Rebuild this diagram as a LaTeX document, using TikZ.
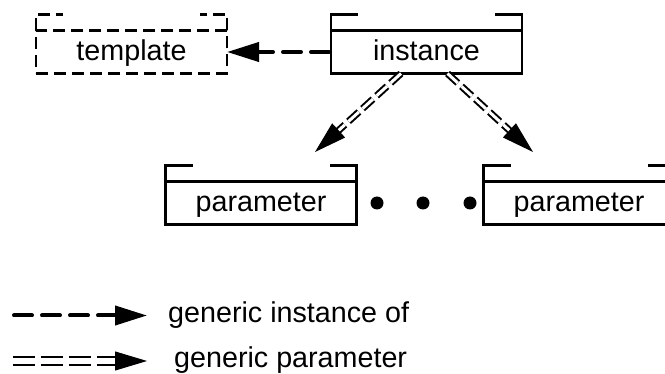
\documentclass[tikz,border=0pt]{standalone}
\usepackage{fontspec}
\setmainfont{Liberation Sans}
\usetikzlibrary{arrows.meta,calc}
\begin{document}
\begin{tikzpicture}[x=1pt,y=-1pt,
  lbl/.style={font=\fontsize{28.7}{34}\selectfont},
  body/.style={draw, line width=2.3pt, minimum width=191pt, minimum height=43pt,
    inner sep=0pt, outer sep=0pt, lbl, text height=22pt, text depth=5pt},
  ghost/.style={dash pattern=on 12pt off 6pt},
  tabline/.style={line width=2.3pt},
  dot/.style={circle, fill, inner sep=0pt, minimum size=13pt},
  head/.style={-{Triangle[length=32pt,width=19pt]}},
  instof/.style={line width=4pt, line cap=round, dash pattern=on 18pt off 10pt, head},
  paramof/.style={double, double distance=3pt, line width=2pt, dash pattern=on 14pt off 5pt},
]
\useasboundingbox (0,0) rectangle (665,374);
\clip (0,0) rectangle (665,374);

% packages
\node[body] (inst) at (426.5,52) {instance};
\node[body, ghost] (tmpl) at (131.5,52) {template};
\node[body] (parA) at (261,203) {parameter};
\node[body] (parB) at (579,203) {parameter};

% folder tabs
\foreach \b in {inst,parA,parB}{
  \draw[tabline] (\b.north west) -- ++(0,-16) -- ++(27,0);
  \draw[tabline] (\b.north east) -- ++(0,-16) -- ++(-27,0);
}
\draw[tabline, ghost] (tmpl.north west) -- ++(0,-16) -- ++(27,0);
\draw[tabline, ghost] (tmpl.north east) -- ++(0,-16) -- ++(-27,0);

% ellipsis between the parameters
\node[dot] (d1) at (377,203) {};
\node[dot] (d2) at (423,203) {};
\node[dot] (d3) at (470,203) {};

% generic instance of
\draw[instof, shorten <=2pt] (inst.west) -- (tmpl.east);

% generic parameters
\coordinate (sL) at ($(inst.south)+(-25.5,0)$);
\coordinate (sR) at ($(inst.south)+(21,0)$);
\coordinate (tL) at (315,152);
\coordinate (tR) at (533,152);
\draw[paramof, shorten >=30pt] (sL) -- (tL);
\draw[line width=1pt, head] ($(tL)!32pt!(sL)$) -- (tL);
\draw[paramof, shorten >=30pt] (sR) -- (tR);
\draw[line width=1pt, head] ($(tR)!32pt!(sR)$) -- (tR);

% legend
\coordinate (k1a) at (14,315.5);
\coordinate (k1b) at (147,315.5);
\draw[instof] (k1a) -- (k1b);
\node[lbl, anchor=base west, inner sep=0pt] (k1t) at (168,323) {generic instance of};

\coordinate (k2a) at (13,361);
\coordinate (k2b) at (147,361);
\draw[paramof, line width=2.3pt, double distance=5.2pt, dash pattern=on 22pt off 6pt,
  shorten >=30pt] (k2a) -- (k2b);
\draw[line width=1pt, head] ($(k2b)+(-32,0)$) -- (k2b);
\node[lbl, anchor=base west, inner sep=0pt] (k2t) at (174,368) {generic parameter};
\end{tikzpicture}
\end{document}
